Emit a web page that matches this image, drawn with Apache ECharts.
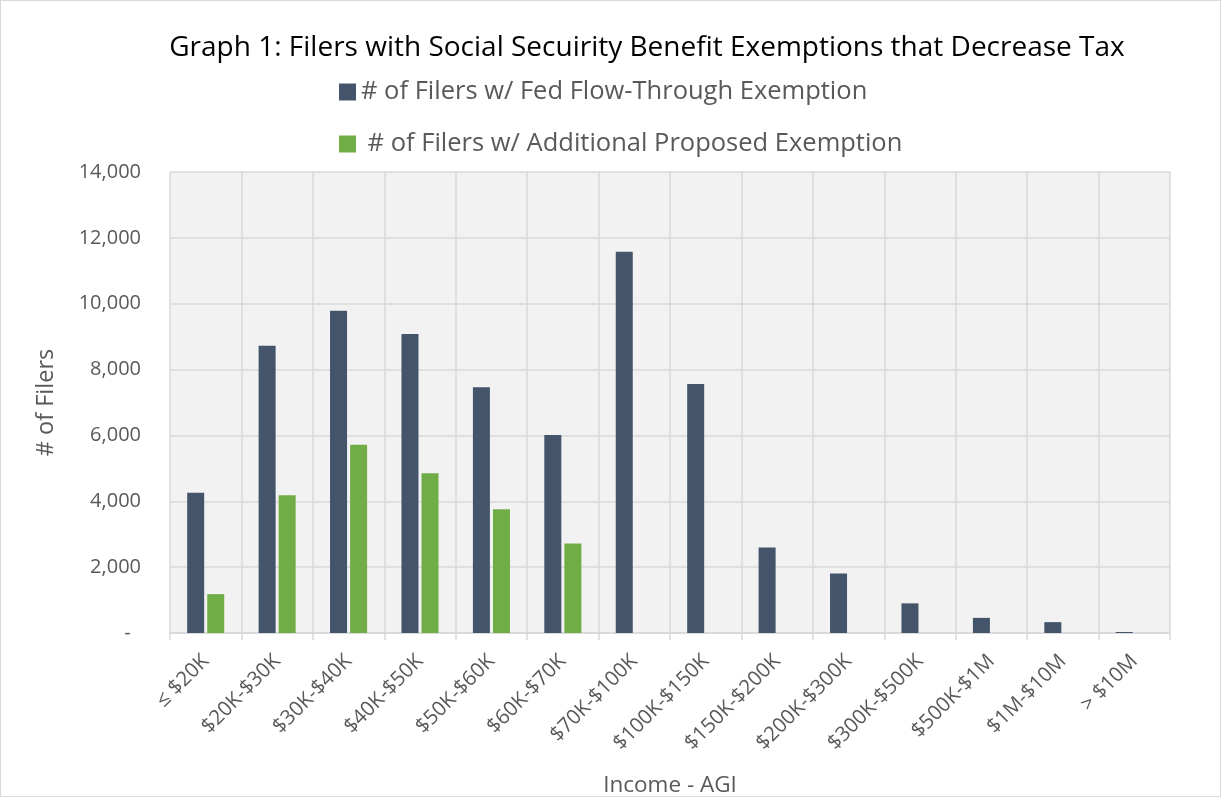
<!DOCTYPE html>
<html><head><meta charset="utf-8">
<script src="https://cdn.jsdelivr.net/npm/echarts@6/dist/echarts.min.js"></script>
<style>html,body{margin:0;padding:0;background:#fff}#c{width:1221px;height:797px;box-sizing:border-box;border:1px solid #d9d9d9}</style>
</head><body><div id="c"></div>
<script>
const categories = ['≤ $20K','$20K-$30K','$30K-$40K','$40K-$50K','$50K-$60K','$60K-$70K','$70K-$100K','$100K-$150K','$150K-$200K','$200K-$300K','$300K-$500K','$500K-$1M','$1M-$10M','> $10M'];
const fedFlowThrough = [4260, 8720, 9790, 9080, 7460, 6010, 11580, 7560, 2600, 1810, 900, 460, 330, 30];
const additionalProposed = [1180, 4180, 5720, 4850, 3760, 2720, 0, 0, 0, 0, 0, 0, 0, 0];
const seriesNames = ['# of Filers w/ Fed Flow-Through Exemption', ' # of Filers w/ Additional Proposed Exemption'];
const yTicks = [0, 2000, 4000, 6000, 8000, 10000, 12000, 14000];

const font = "'Open Sans', 'Noto Sans', sans-serif";
const chart = echarts.init(document.getElementById('c'));
chart.setOption({
  animation: false,
  title: {
    text: 'Graph 1: Filers with Social Secuirity Benefit Exemptions that Decrease Tax',
    left: 641, top: 28, textAlign: 'center',
    textStyle: {fontFamily: font, fontSize: 28, fontWeight: 'normal', color: '#000'}
  },
  legend: {
    orient: 'vertical', left: 333, top: 73, itemGap: 26,
    itemWidth: 17, itemHeight: 17, icon: 'rect',
    textStyle: {fontFamily: font, fontSize: 25.5, color: '#595959'},
    data: seriesNames
  },
  grid: {left: 169, right: 50, top: 171, bottom: 163, outerBoundsMode: 'none', containLabel: false},
  xAxis: {
    type: 'category', data: categories,
    name: 'Income - AGI', nameLocation: 'middle', nameGap: 141,
    nameTextStyle: {fontFamily: font, fontSize: 22.5, color: '#595959'},
    axisLine: {show: true, lineStyle: {color: '#d9d9d9', width: 1.5}},
    axisTick: {show: true, length: 7, lineStyle: {color: '#d9d9d9', width: 1.5}},
    axisLabel: {rotate: 45, interval: 0, fontFamily: font, fontSize: 20.5, color: '#595959', margin: 25},
    splitLine: {show: true, interval: 0, lineStyle: {color: '#d9d9d9', width: 1.5}}
  },
  yAxis: {
    type: 'value', min: yTicks[0], max: yTicks[yTicks.length-1], interval: 2000,
    name: '# of Filers', nameLocation: 'middle', nameGap: 112,
    nameTextStyle: {fontFamily: font, fontSize: 23.5, color: '#595959'},
    axisLine: {show: false}, axisTick: {show: false},
    axisLabel: {fontFamily: font, fontSize: 20, color: '#595959', margin: 29,
      formatter: v => v === 0 ? '-  ' : v.toLocaleString('en-US')},
    splitLine: {lineStyle: {color: '#d9d9d9', width: 1.5}},
    splitArea: {show: true, areaStyle: {color: ['#f2f2f2', '#f2f2f2']}}
  },
  series: [
    {name: seriesNames[0], type: 'bar', data: fedFlowThrough, barWidth: 17, barGap: '18%',
     itemStyle: {color: '#44546a'}},
    {name: seriesNames[1], type: 'bar', data: additionalProposed, barWidth: 17,
     itemStyle: {color: '#70ad47'}}
  ]
});
</script></body></html>
